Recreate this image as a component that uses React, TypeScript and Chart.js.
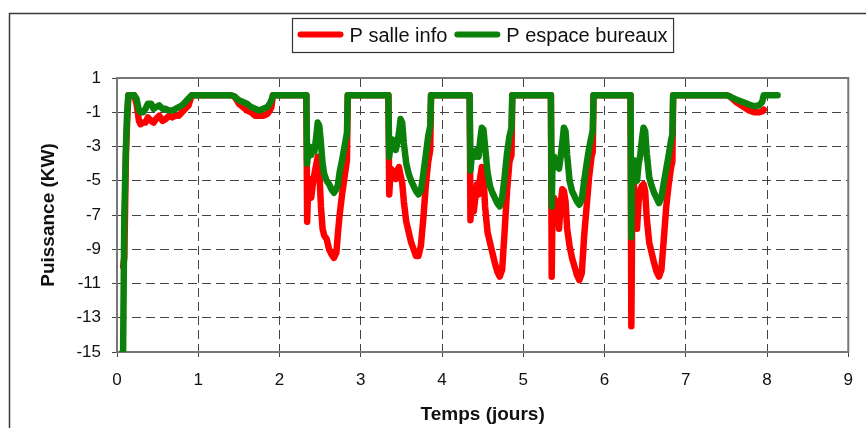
import React, { useEffect, useRef } from "react";
import { Chart, registerables } from "chart.js";

Chart.register(...registerables);

// ---- Data (time in days, power in kW) ----
const timeDays = [
  0.07, 0.075, 0.09, 0.11, 0.125, 0.14, 0.17, 0.21, 0.24, 0.27, 0.29, 0.32, 0.35, 0.38, 0.42, 0.45, 0.48, 0.52, 0.56, 0.6, 0.64, 0.68, 0.72, 0.76, 0.8, 0.84, 0.88, 0.92,
  1.0, 1.2, 1.4, 1.45, 1.5, 1.55, 1.6, 1.65, 1.7, 1.75, 1.8, 1.85, 1.88, 1.9, 1.92, 2.1, 2.33,
  2.34, 2.355, 2.37, 2.39, 2.41, 2.43, 2.45, 2.47, 2.49, 2.51, 2.53, 2.55, 2.58, 2.61, 2.64, 2.67, 2.7, 2.72, 2.74, 2.77, 2.8, 2.83, 2.84,
  3.0, 3.2, 3.34,
  3.35, 3.37, 3.39, 3.41, 3.43, 3.45, 3.47, 3.49, 3.51, 3.53, 3.56, 3.59, 3.62, 3.65, 3.68, 3.71, 3.74, 3.77, 3.8, 3.83, 3.855, 3.865,
  4.0, 4.2, 4.34,
  4.35, 4.37, 4.39, 4.41, 4.43, 4.45, 4.47, 4.49, 4.51, 4.53, 4.56, 4.59, 4.62, 4.65, 4.68, 4.71, 4.74, 4.77, 4.8, 4.83, 4.855, 4.865,
  5.0, 5.2, 5.34,
  5.35, 5.36, 5.38, 5.4, 5.42, 5.44, 5.46, 5.48, 5.5, 5.52, 5.54, 5.57, 5.6, 5.63, 5.66, 5.69, 5.72, 5.75, 5.78, 5.81, 5.84, 5.855, 5.865,
  6.0, 6.2, 6.32,
  6.33, 6.34, 6.36, 6.38, 6.4, 6.42, 6.44, 6.46, 6.48, 6.5, 6.52, 6.55, 6.58, 6.61, 6.64, 6.67, 6.7, 6.73, 6.76, 6.79, 6.82, 6.835, 6.845,
  7.0, 7.2, 7.4, 7.5, 7.55, 7.62, 7.7, 7.78, 7.84, 7.9, 7.94, 7.96, 8.0, 8.13,
];

const pSalleInfo = [
  null, -10, -9.5, -3.5, -1.5, 0, 0, 0, -0.5, -1.5, -1.7, -1.6, -1.6, -1.3, -1.5, -1.6, -1.4, -1.2, -1.5, -1.4, -1.2, -1.3, -1.2, -1.2, -1.0, -0.8, -0.6, 0,
  0, 0, 0, -0.1, -0.5, -0.7, -0.9, -1.0, -1.2, -1.2, -1.2, -1.1, -0.9, -0.7, 0, 0, 0,
  -7.4, -5, -4.9, -6, -5.2, -4.6, -4.1, -3.6, -4.5, -6.5, -7.8, -8.2, -8.4, -9, -9.3, -9.5, -9.2, -8, -7, -5.8, -4.8, -3.8, 0,
  0, 0, 0,
  -5.8, -4.3, -4.4, -4.6, -4.9, -4.4, -4.2, -4.7, -5.1, -6.2, -7.4, -8, -8.6, -9, -9.4, -9.4, -8.8, -7.2, -5.3, -3.9, -3.2, 0,
  0, 0, 0,
  -7.3, -5.6, -6.8, -6.0, -5.2, -5.8, -4.8, -4.2, -4.6, -6.5, -8, -8.6, -9.2, -9.8, -10.3, -10.6, -10.2, -8, -5.6, -3.9, -3.5, 0,
  0, 0, 0,
  -10.6, -6.5, -6, -7.5, -6.2, -7.8, -6.4, -5.5, -5.6, -6.2, -7.8, -8.8, -9.5, -10, -10.5, -10.8, -10.4, -8.2, -6.5, -4.8, -3.6, -3.3, 0,
  0, 0, 0,
  -13.5, -7.5, -5.2, -6, -7.8, -6.2, -5.6, -5.3, -5.2, -5.6, -7.2, -8.6, -9.2, -9.8, -10.3, -10.6, -10.2, -8.4, -6.5, -5.2, -4.2, -3.9, 0,
  0, 0, 0, 0, -0.1, -0.4, -0.65, -0.9, -1.0, -1.0, -0.95, -0.85, null, null,
];

const pEspaceBureaux = [
  -15, -15, -7, -3, -1, 0, 0, 0, -0.2, -0.9, -1, -1, -0.8, -0.5, -0.5, -0.8, -0.7, -0.6, -0.8, -0.8, -0.9, -0.9, -0.8, -0.7, -0.6, -0.4, -0.2, 0,
  0, 0, 0, -0.1, -0.3, -0.4, -0.5, -0.7, -0.8, -0.9, -0.8, -0.7, -0.5, -0.3, 0, 0, 0,
  -4, -3.2, -3.0, -3.5, -3.1, -3.3, -2.5, -1.6, -1.8, -2.8, -4, -4.6, -5, -5.2, -5.5, -5.7, -5.5, -5.2, -4.5, -3.8, -3, -2.2, 0,
  0, 0, 0,
  -3.6, -2.7, -2.6, -2.9, -3.2, -2.8, -2.2, -1.4, -1.6, -2.8, -4, -4.6, -5, -5.3, -5.6, -5.8, -5.6, -4.6, -3.5, -2.4, -1.8, 0,
  0, 0, 0,
  -4.4, -3.4, -3.3, -3.6, -3.2, -3.6, -2.6, -1.9, -2, -3, -4.5, -5.3, -5.7, -6, -6.3, -6.5, -6.0, -4.8, -3.4, -2.4, -1.9, 0,
  0, 0, 0,
  -6.5, -4, -3.6, -4.2, -3.8, -4.3, -3.6, -2.8, -1.9, -2.1, -3.5, -5, -5.6, -5.9, -6.2, -6.4, -6.1, -5, -4, -3.1, -2.4, -2.1, 0,
  0, 0, 0,
  -8.3, -4.5, -3.8, -4.4, -5, -4, -3.5, -2.6, -1.9, -2.1, -3.4, -4.8, -5.3, -5.7, -6, -6.3, -6, -5.1, -4.3, -3.5, -2.6, -2.3, 0,
  0, 0, 0, 0, -0.1, -0.25, -0.4, -0.55, -0.65, -0.6, -0.4, 0, 0, 0,
];

const seriesLabels = ["P salle info", "P espace bureaux"];
const seriesColors = ["#ff0000", "#0b800b"];

const xAxisTitle = "Temps (jours)";
const yAxisTitle = "Puissance (KW)";
const xMin = 0, xMax = 9, xStep = 1;
const yMin = -15, yMax = 1, yStep = 2;

const FONT = "'Liberation Sans', Arial, Helvetica, sans-serif";

const framePlugin = {
  id: "frameAndLegend",
  beforeDraw(chart: any) {
    const ctx = chart.ctx;
    ctx.save();
    ctx.fillStyle = "#ffffff";
    ctx.fillRect(0, 0, chart.width, chart.height);
    ctx.strokeStyle = "#3a3a3a";
    ctx.lineWidth = 1.5;
    ctx.strokeRect(9.5, 13.5, chart.width + 40, chart.height + 40);
    ctx.restore();
  },
  beforeDatasetsDraw(chart: any) {
    const { ctx, chartArea: a } = chart;
    ctx.save();
    ctx.strokeStyle = "#777777";
    ctx.lineWidth = 2;
    ctx.strokeRect(a.left, a.top, a.right - a.left, a.bottom - a.top);
    ctx.restore();
  },
  afterDraw(chart: any) {
    const { ctx, chartArea: a } = chart;
    ctx.save();
    ctx.font = `20px ${FONT}`;
    const lineLen = 46, gapLine = 6, gapItem = 7, padL = 5, padR = 6;
    const items = chart.data.datasets.map((ds: any) => ({
      label: ds.label as string,
      color: ds.borderColor as string,
      w: ctx.measureText(ds.label).width,
    }));
    let total = padL + padR;
    items.forEach((it: any, i: number) => {
      total += lineLen + gapLine + it.w + (i < items.length - 1 ? gapItem : 0);
    });
    const cx = (a.left + a.right) / 2;
    const boxX = Math.round(cx - total / 2) + 0.5;
    const boxY = 18.5;
    const boxH = 34;
    ctx.fillStyle = "#ffffff";
    ctx.fillRect(boxX, boxY, total, boxH);
    ctx.strokeStyle = "#333333";
    ctx.lineWidth = 1.2;
    ctx.strokeRect(boxX, boxY, total, boxH);
    const cy = boxY + boxH / 2;
    let x = boxX + padL;
    items.forEach((it: any) => {
      ctx.strokeStyle = it.color;
      ctx.lineWidth = 6;
      ctx.lineCap = "round";
      ctx.beginPath();
      ctx.moveTo(x + 3, cy - 1);
      ctx.lineTo(x + lineLen - 3, cy - 1);
      ctx.stroke();
      x += lineLen + gapLine;
      ctx.fillStyle = "#111111";
      ctx.textBaseline = "middle";
      ctx.textAlign = "left";
      ctx.fillText(it.label, x, cy + 1);
      x += it.w + gapItem;
    });
    ctx.restore();
  },
};

export default function App() {
  const canvasRef = useRef<HTMLCanvasElement | null>(null);

  useEffect(() => {
    if (!canvasRef.current) return;
    const mk = (vals: (number | null)[]) => timeDays.map((t, i) => ({ x: t, y: vals[i] }));
    const chart = new Chart(canvasRef.current, {
      type: "line",
      data: {
        datasets: [
          {
            label: seriesLabels[0],
            data: mk(pSalleInfo) as any,
            borderColor: seriesColors[0],
            backgroundColor: seriesColors[0],
            borderWidth: 6.5,
            pointRadius: 0,
            tension: 0,
            borderJoinStyle: "round",
            borderCapStyle: "round",
            order: 1,
          },
          {
            label: seriesLabels[1],
            data: mk(pEspaceBureaux) as any,
            borderColor: seriesColors[1],
            backgroundColor: seriesColors[1],
            borderWidth: 6.5,
            pointRadius: 0,
            tension: 0,
            borderJoinStyle: "round",
            borderCapStyle: "round",
            order: 0,
          },
        ],
      },
      options: {
        animation: false,
        responsive: false,
        maintainAspectRatio: false,
        events: [],
        layout: { padding: { left: 33, top: 78, right: 15, bottom: 0 } },
        plugins: { legend: { display: false }, tooltip: { enabled: false }, title: { display: false } },
        scales: {
          x: {
            type: "linear",
            min: xMin,
            max: xMax,
            afterFit: (s: any) => { s.height = 76; },
            ticks: { stepSize: xStep, color: "#111", font: { family: FONT, size: 17 }, padding: 13, maxRotation: 0, autoSkip: false },
            grid: { color: "#444", lineWidth: 1, tickLength: 5, tickColor: "#444", drawTicks: true },
            border: { display: true, color: "#777", width: 2, dash: [9, 5] },
            title: { display: true, text: xAxisTitle, color: "#111", font: { family: FONT, size: 19, weight: "bold" }, padding: { top: 4, bottom: 2 } },
          },
          y: {
            type: "linear",
            min: yMin,
            max: yMax,
            afterFit: (s: any) => { s.width = 84; },
            ticks: { stepSize: yStep, color: "#111", font: { family: FONT, size: 17 }, padding: 11, autoSkip: false },
            grid: { color: "#444", lineWidth: 1, tickLength: 5, tickColor: "#444", drawTicks: true },
            border: { display: true, color: "#777", width: 2, dash: [9, 5] },
            title: { display: true, text: yAxisTitle, color: "#111", font: { family: FONT, size: 19, weight: "bold" }, padding: { top: 4, bottom: 0 } },
          },
        },
      },
      plugins: [framePlugin],
    });
    return () => chart.destroy();
  }, []);

  return (
    <div style={{ position: "absolute", left: 0, top: 0, width: 866, height: 428, background: "#fff" }}>
      <canvas ref={canvasRef} width={866} height={428} style={{ display: "block" }} />
    </div>
  );
}
